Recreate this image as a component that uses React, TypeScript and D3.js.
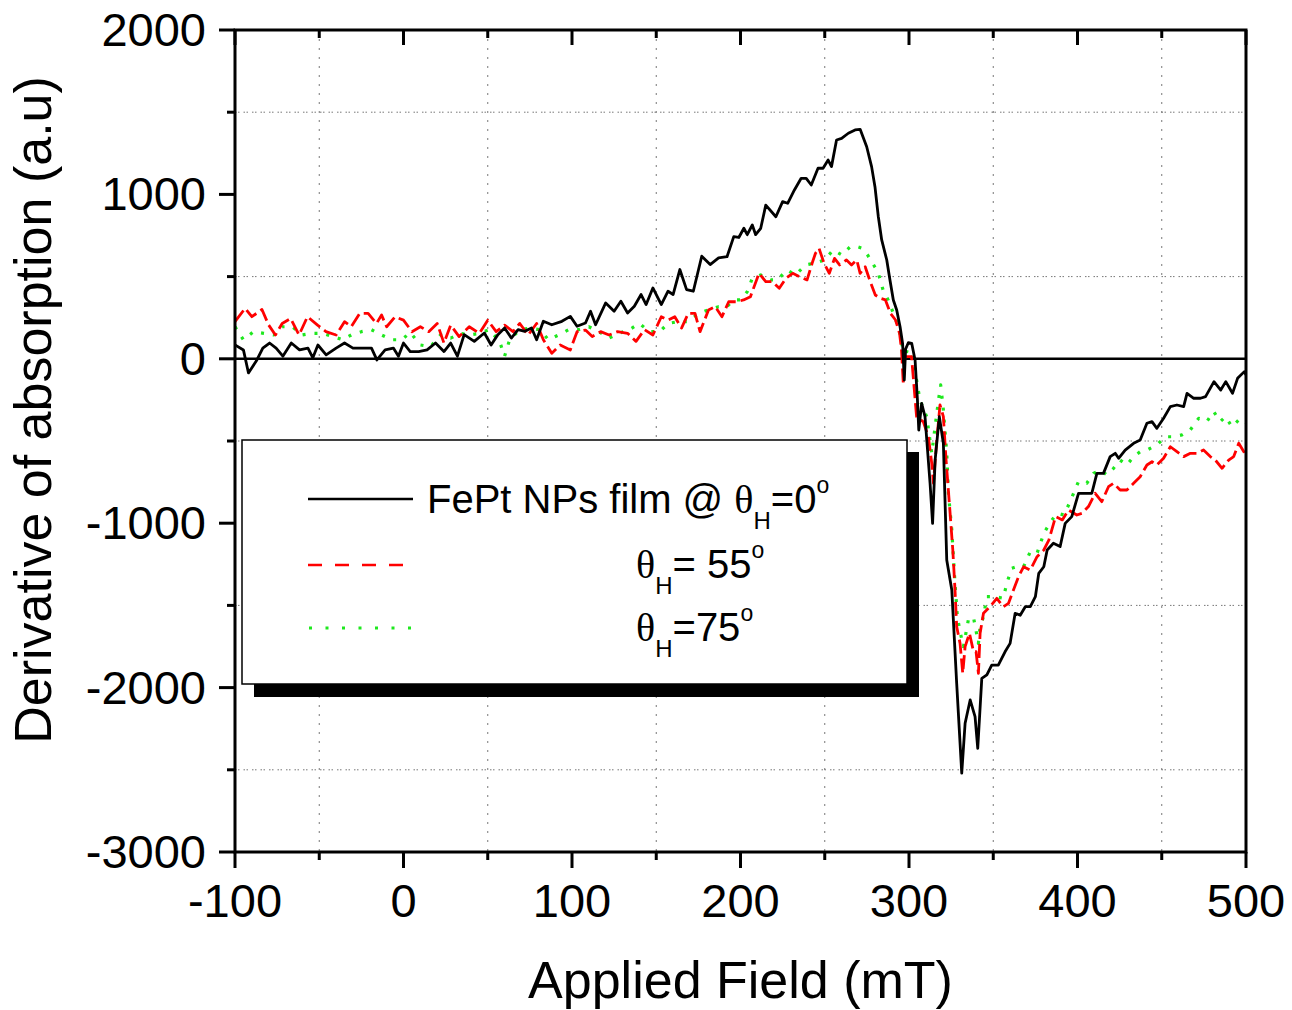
import React from "react";
import * as d3 from "d3";

// ---- Data ----
const blackX = [-100,-95,-92,-87,-83.5,-79.5,-75.6,-71.6,-66.6,-61.7,-56.7,-53.8,-50.8,-45.9,-40,-35,-30,-24,-19,-15.8,-10.9,-6,-3,0,4,9,14,19,24,28,32,36,42,48,52,56,60,64,68,72,76,79,83,88,94,99,103,108,111,114,120,125,129,133,137,141,144,148,153,157,160,164,168,172,177,182,187,192,196,199,202,204,207,209,212,215,221,225,228,232,236,239,242,246,249,252,254,257,260,264,268,271,274.9,277.8,279.8,281.8,283.8,286.8,288.7,290.7,292.7,294.7,296.2,297.2,298,299.6,301.6,303.6,305,305.8,307.5,309.5,312.5,314,315.5,318,320.4,322.4,325.4,328.3,331.3,333.3,336.3,339.2,340.8,343.2,346.2,349.1,353,357,360,363,366,369,372,375,377,380,382,385.7,389.7,392.7,396.6,400.6,404.5,408.5,411.5,415.4,419.4,422.4,424.4,428.3,433.3,437.2,441.2,444.2,447.1,451.1,455.1,459,463,465,469,473,476,481,485,488,492,495,499,500];
const blackY = [84,54,-86,-7,65,96,65,16,96,54,65,6,84,24,65,96,65,65,65,-7,54,65,16,96,44,44,54,96,44,96,16,147,106,157,84,147,187,126,177,167,187,116,228,207,228,258,198,218,289,207,340,289,350,279,320,391,330,431,330,411,391,543,421,411,624,573,614,621,743,738,794,755,814,755,794,935,864,956,946,1027,1098,1098,1057,1159,1159,1209,1169,1331,1341,1372,1392,1396,1290,1169,1047,864,723,601,479,358,297,195,94,-129,60,98,94,-7,-250,-433,-271,-352,-757,-1001,-616,-352,-514,-1224,-1406,-1974,-2520,-2217,-2075,-2177,-2369,-1944,-1923,-1863,-1863,-1782,-1731,-1548,-1560,-1508,-1508,-1447,-1305,-1265,-1163,-1122,-1142,-1001,-960,-818,-818,-818,-697,-697,-595,-575,-605,-555,-514,-494,-392,-382,-423,-362,-291,-281,-291,-210,-240,-240,-230,-139,-190,-139,-210,-119,-78,-98];

const redX = [-100,-94,-90,-84,-80,-76,-72,-67,-62,-57,-51,-46,-40,-35,-31,-26,-21,-16,-13,-10,-5,0,5,10,15,20,24,28,33,39,45,50,55,60,65,69,74,79,83,88,93,99,103,108,112,117,122,127,133,138,143,148,153,157,161,165,169,173,176,181,185,189,193,197.8,201.8,205.9,211,215,219,223,227,231,235,239.5,242.5,244.5,246.6,249.6,252.7,255.8,258.8,262.9,265.9,269,271,274,277,280,283,286,289,292,294.4,295.5,296.6,297.6,301.5,304.5,308.5,311.5,313.5,314.5,316.5,318.4,320.4,322,324.4,326,327.3,328.3,330.3,331.9,333.3,335.9,338.3,339.8,341.2,342.2,344.2,348.1,352.1,356,359,362,365,368,372,376,380,383,387,391,394.6,399.6,402.6,406.5,410.5,414.4,418.4,421.4,425.3,429.3,433.3,437.2,441.2,444.2,447.1,451.1,455.1,459,463,467,471,474.8,478.8,481.8,485.8,489.7,492.7,495.7,498.7,500];
const redY = [226,307,256,300,205,145,215,245,145,256,205,165,145,226,195,276,276,215,266,195,256,235,165,195,165,215,96,205,135,195,155,235,165,205,165,215,145,215,116,34,84,54,165,175,135,165,145,165,155,106,177,145,256,235,256,187,276,276,165,297,317,256,347,347,358,378,520,469,469,429,490,520,500,480,581,642,672,581,520,611,571,601,571,601,520,560,469,388,368,358,277,236,155,60,-150,13,13,-352,-383,-474,-636,-757,-494,-281,-352,-616,-940,-1163,-1406,-1629,-1731,-1913,-1751,-1670,-1782,-1782,-1913,-1670,-1548,-1508,-1457,-1508,-1488,-1406,-1325,-1265,-1285,-1204,-1163,-1103,-960,-980,-920,-950,-940,-899,-818,-869,-778,-757,-798,-798,-757,-717,-646,-626,-646,-605,-535,-565,-595,-575,-575,-555,-595,-616,-666,-616,-595,-514,-565,-535];

const greenX = [-100,-95,-89,-83,-77,-72,-66,-60,-54,-48,-42,-36,-31,-25,-19,-13,-7,-1,4,10,16,22,28,34,39,45,51,57,60,63,69,75,81,86,92,98,104,110,116,122,128,134,140,146,152,157,163,169,175,181,187,191.9,196,200,204,207,212,218,222,227.5,232.6,238.7,243.8,249.9,255,260,265.2,269.3,272.3,275.4,278.4,281.5,284.6,287.6,290.7,293.7,295.7,297.6,299,302,304.5,306.5,310.5,313.5,315.5,317.5,318.8,320.4,322.4,323.4,325.4,327.3,328.7,330.3,332.3,335.2,338.2,341.2,342.2,344.2,346.2,351.1,356,358,361,364,368,372,376,380,384,388,392,395.6,400.6,405.5,409.5,413.4,417.4,421.4,425.3,429.3,433.3,437.2,441.2,447.1,452.1,457,462,466.9,471.9,476.8,480.8,484.8,487.8,491.7,495.7,498.7,500];
const greenY = [195,116,165,155,145,195,195,145,155,155,135,116,145,165,177,145,116,116,160,84,74,145,126,155,145,155,177,106,16,116,177,187,177,116,145,177,177,195,165,126,155,177,215,165,165,215,226,226,276,297,317,317,358,358,408,490,510,480,480,540,510,571,581,601,662,632,682,682,672,632,581,530,419,358,277,196,94,-7,60,0,-129,-251,-352,-575,-413,-251,-159,-311,-575,-818,-1041,-1366,-1569,-1660,-1751,-1589,-1569,-1731,-1629,-1569,-1447,-1447,-1457,-1366,-1274,-1264,-1264,-1173,-1183,-1062,-991,-940,-950,-869,-747,-757,-697,-676,-706,-666,-616,-646,-595,-565,-555,-524,-474,-474,-463,-433,-362,-382,-321,-382,-352,-413,-372,-402,-400];

const xMajorTicks = [-100, 0, 100, 200, 300, 400, 500];
const xMinorTicks = [-50, 50, 150, 250, 350, 450];
const yMajorTicks = [2000, 1000, 0, -1000, -2000, -3000];
const yMinorTicks = [1500, 500, -500, -1500, -2500];

const xTitle = "Applied Field (mT)";
const yTitle = "Derivative of absorption (a.u)";

const SANS = "'Liberation Sans', Arial, sans-serif";
const SERIF = "'Liberation Serif', 'Times New Roman', serif";

export default function App() {
  const L = 235, R = 1246, T = 30, B = 852;
  const x = d3.scaleLinear().domain([-100, 500]).range([L, R]);
  const y = d3.scaleLinear().domain([-3000, 2000]).range([B, T]);

  const mk = (xs: number[], ys: number[]) =>
    d3.line<number>().x((_, i) => x(xs[i])).y((_, i) => y(ys[i]))(xs.map((_, i) => i)) || "";

  const blackPath = mk(blackX, blackY);
  const redPath = mk(redX, redY);
  const greenPath = mk(greenX, greenY);

  return (
    <svg width={1292} height={1010} style={{ position: "absolute", left: 0, top: 0, background: "#fff" }} fontFamily={SANS}>
      <defs>
        <clipPath id="plotClip">
          <rect x={L} y={T} width={R - L} height={B - T} />
        </clipPath>
      </defs>
      <rect x={0} y={0} width={1292} height={1010} fill="#fff" />

      {/* grid */}
      {xMinorTicks.map((t) => (
        <line key={"gx" + t} x1={x(t)} x2={x(t)} y1={T} y2={B} stroke="#777" strokeWidth={1} strokeDasharray="2,7" />
      ))}
      {yMinorTicks.map((t) => (
        <line key={"gy" + t} x1={L} x2={R} y1={y(t)} y2={y(t)} stroke="#777" strokeWidth={1} strokeDasharray="1.5,1.5,1.5,4" />
      ))}

      {/* zero line */}
      <line x1={L} x2={R} y1={y(0)} y2={y(0)} stroke="#000" strokeWidth={2.5} />

      {/* data */}
      <g clipPath="url(#plotClip)" fill="none" strokeLinejoin="round">
        <path d={greenPath} stroke="#1ee81e" strokeWidth={3.2} strokeDasharray="3,9" />
        <path d={redPath} stroke="#ff0000" strokeWidth={2.8} strokeDasharray="14,5" />
        <path d={blackPath} stroke="#000" strokeWidth={2.8} />
      </g>

      {/* frame */}
      <rect x={L} y={T} width={R - L} height={B - T} fill="none" stroke="#000" strokeWidth={3} />

      {/* ticks bottom (outward) and top (inward) */}
      {xMajorTicks.map((t) => (
        <g key={"xt" + t}>
          <line x1={x(t)} x2={x(t)} y1={B} y2={B + 16} stroke="#000" strokeWidth={3} />
          <line x1={x(t)} x2={x(t)} y1={T} y2={T + 15} stroke="#000" strokeWidth={3} />
          <text x={x(t)} y={917} fontSize={47} textAnchor="middle" fill="#000">{t}</text>
        </g>
      ))}
      {xMinorTicks.map((t) => (
        <g key={"xm" + t}>
          <line x1={x(t)} x2={x(t)} y1={B} y2={B + 8} stroke="#000" strokeWidth={3} />
          <line x1={x(t)} x2={x(t)} y1={T} y2={T + 8} stroke="#000" strokeWidth={3} />
        </g>
      ))}

      {/* ticks left (outward) */}
      {yMajorTicks.map((t) => (
        <g key={"yt" + t}>
          <line x1={L - 16} x2={L} y1={y(t)} y2={y(t)} stroke="#000" strokeWidth={3} />
          <text x={206} y={y(t) + 16} fontSize={47} textAnchor="end" fill="#000">{t}</text>
        </g>
      ))}
      {yMinorTicks.map((t) => (
        <line key={"ym" + t} x1={L - 8} x2={L} y1={y(t)} y2={y(t)} stroke="#000" strokeWidth={3} />
      ))}

      {/* axis titles */}
      <text x={(L + R) / 2} y={998} fontSize={52} textAnchor="middle" fill="#000">{xTitle}</text>
      <text transform="translate(51,410) rotate(-90)" fontSize={52} textAnchor="middle" fill="#000">{yTitle}</text>

      {/* legend */}
      <rect x={254} y={452} width={665} height={245} fill="#000" />
      <rect x={242} y={440} width={665} height={244} fill="#fff" stroke="#000" strokeWidth={1.5} />

      <line x1={308} x2={413} y1={499} y2={499} stroke="#000" strokeWidth={2.4} />
      <text x={427} y={513} fontSize={40} fill="#000">
        FePt NPs film @ <tspan fontFamily={SERIF}>θ</tspan>
        <tspan fontSize={24} dy={16}>H</tspan>
        <tspan dy={-16}>=0</tspan>
        <tspan fontSize={23} dy={-20}>o</tspan>
      </text>

      <line x1={308} x2={406} y1={565} y2={565} stroke="#ff0000" strokeWidth={2.6} strokeDasharray="14,13" />
      <text x={636} y={578} fontSize={40} fill="#000">
        <tspan fontFamily={SERIF}>θ</tspan>
        <tspan fontSize={24} dy={16}>H</tspan>
        <tspan dy={-16}>= 55</tspan>
        <tspan fontSize={23} dy={-20}>o</tspan>
      </text>

      <line x1={309} x2={413} y1={628} y2={628} stroke="#1ee81e" strokeWidth={3} strokeDasharray="3,13.5" />
      <text x={636} y={641} fontSize={40} fill="#000">
        <tspan fontFamily={SERIF}>θ</tspan>
        <tspan fontSize={24} dy={16}>H</tspan>
        <tspan dy={-16}>=75</tspan>
        <tspan fontSize={23} dy={-20}>o</tspan>
      </text>
    </svg>
  );
}
